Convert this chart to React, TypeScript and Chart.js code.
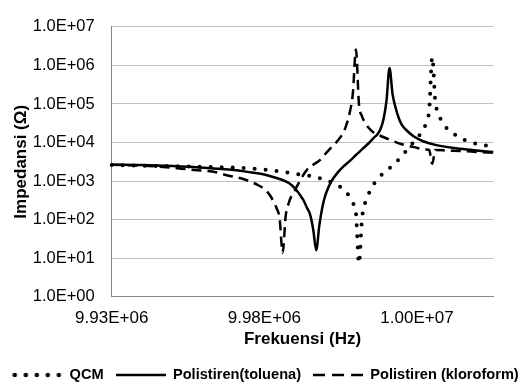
import React, { useEffect, useRef } from "react";
import { Chart, registerables } from "chart.js";

Chart.register(...registerables);

const FONT = "'Liberation Sans', Arial, sans-serif";

// Category axis: measured frequencies (kHz)
const frequencyKHz = [
  9930, 9931, 9932, 9933, 9934, 9935, 9936, 9937, 9938, 9939,
  9940, 9941, 9942, 9943, 9944, 9945, 9946, 9947, 9948, 9949,
  9950, 9951, 9952, 9953, 9954, 9955, 9956, 9957, 9958, 9959,
  9960, 9961, 9962, 9963, 9964, 9965, 9966, 9967, 9968, 9969,
  9970, 9971, 9972, 9973, 9974, 9975, 9976, 9977, 9978, 9979,
  9980,
  9980.4, 9980.8, 9981.2, 9981.6, 9982, 9982.4, 9982.8, 9983.2, 9983.6, 9984,
  9984.4, 9984.8, 9985.2, 9985.6, 9986, 9986.4, 9986.8, 9987.2, 9987.6, 9988,
  9988.4, 9988.8, 9989.2, 9989.6, 9990, 9990.4, 9990.8, 9991.2, 9991.6, 9992,
  9992.4, 9992.8, 9993.2, 9993.6, 9994, 9994.4, 9994.8, 9995.2, 9995.6, 9996,
  9996.4, 9996.8, 9997.2, 9997.6, 9998, 9998.4, 9998.8, 9999.2, 9999.6, 10000,
  10000.4, 10000.8, 10001.2, 10001.6, 10002, 10002.4, 10002.8, 10003.2, 10003.6, 10004,
  10004.4, 10004.8, 10005.2, 10005.6, 10006, 10006.4, 10006.8, 10007.2, 10007.6, 10008,
  10008.4, 10008.8, 10009.2, 10009.6, 10010,
];

const xTickFreqs = [9930, 9980, 10000];
const xTickLabels = ["9.93E+06", "9.98E+06", "1.00E+07"];

const yTickValues = [1, 10, 100, 1000, 10000, 100000, 1000000, 10000000];
const yTickLabels = ["1.0E+00", "1.0E+01", "1.0E+02", "1.0E+03", "1.0E+04", "1.0E+05", "1.0E+06", "1.0E+07"];

const seriesNames = ["QCM", "Polistiren(toluena)", "Polistiren (kloroform)"];

// QCM
const qcmFreq = [
  9930, 9940, 9950, 9960, 9970, 9978, 9981.2, 9982.8, 9984.4, 9986,
  9987.2, 9988.4, 9989.6, 9990.4, 9991.2, 9991.6, 9992, 9992.4, 9992.8, 9993.2,
  9993.6, 9994, 9994.4, 9994.8, 9995.6, 9996.4, 9997.2, 9998, 9998.8, 9999.6,
  10000.4, 10000.8, 10001.2, 10001.6, 10002, 10002.4, 10002.8, 10003.2, 10003.6, 10004.4,
  10005.6, 10006.8, 10008.4, 10010,
];
const qcmImpedance = [
  2600, 2500, 2450, 2350, 2230, 2050, 1870, 1700, 1500, 1360,
  1200, 1000, 780, 600, 385, 270, 150, 7.3, 107, 270,
  430, 650, 870, 1100, 1610, 2150, 2980, 4400, 6760, 10500,
  16200, 20500, 32700, 70000, 1640000, 118000, 58000, 36700, 27500, 19300,
  13400, 10500, 8800, 7800,
];

// Polistiren (toluena)
const toluenaFreq = [
  9930, 9940, 9950, 9960, 9970, 9976, 9980, 9981.6, 9982.8, 9983.6,
  9984.4, 9984.8, 9985.2, 9985.6, 9986, 9986.4, 9986.8, 9987.2, 9987.6, 9988,
  9988.4, 9988.8, 9989.6, 9990.4, 9991.2, 9992, 9992.8, 9993.6, 9994.4, 9994.8,
  9995.2, 9995.6, 9996, 9996.4, 9996.8, 9997.2, 9997.6, 9998, 9998.8, 9999.6,
  10000.8, 10002.4, 10004.8, 10007.2, 10010,
];
const toluenaImpedance = [
  2650, 2600, 2450, 2230, 1930, 1660, 1480, 1200, 980, 780,
  520, 400, 300, 200, 135, 56, 16, 70, 210, 430,
  690, 1000, 1660, 2430, 3350, 4750, 6650, 9300, 13600, 16200,
  21700, 38900, 118000, 860000, 180000, 80000, 44000, 29000, 19300, 14300,
  10800, 8700, 7200, 6400, 5650,
];

// Polistiren (kloroform)
const kloroformFreq = [
  9930, 9940, 9950, 9957, 9963, 9968, 9972, 9975, 9978, 9980,
  9980.8, 9981.2, 9981.6, 9982, 9982.4, 9982.8, 9983.2, 9983.6, 9984, 9984.8,
  9985.6, 9986.4, 9987.2, 9988, 9988.8, 9989.6, 9990.4, 9990.8, 9991.2, 9991.6,
  9992, 9992.4, 9992.8, 9993.2, 9993.6, 9994.4, 9995.2, 9996.4, 9998, 9999.6,
  10001.2, 10001.6, 10002, 10002.4, 10004, 10006, 10008, 10010,
];
const kloroformImpedance = [
  2650, 2500, 2230, 1930, 1770, 1400, 1200, 1000, 780, 620,
  410, 290, 200, 107, 13.8, 125, 270, 430, 580, 1140,
  1980, 2650, 3400, 5100, 7600, 11100, 19000, 30800, 61000, 190000,
  2600000, 99000, 48000, 32700, 25000, 17700, 15000, 11800, 9040, 7600,
  6600, 6450, 2800, 6370, 6200, 6000, 5650, 5400,
];

function toPoints(freqs: number[], values: number[]) {
  return freqs.map((f, i) => {
    const label = frequencyKHz.find((l) => Math.abs(l - f) < 1e-6);
    return { x: label as number, y: values[i] };
  });
}

function makeLegendSymbol(kind: "dot" | "solid" | "dash") {
  const c = document.createElement("canvas");
  c.width = 50;
  c.height = 8;
  const g = c.getContext("2d")!;
  g.strokeStyle = "#000";
  g.beginPath();
  if (kind === "dot") {
    g.lineWidth = 4.5;
    g.lineCap = "round";
    g.setLineDash([0, 11]);
    g.moveTo(2.5, 4);
    g.lineTo(48, 4);
  } else if (kind === "solid") {
    g.lineWidth = 2.5;
    g.moveTo(0, 4);
    g.lineTo(50, 4);
  } else {
    g.lineWidth = 2.5;
    g.setLineDash([12, 7]);
    g.moveTo(0, 4);
    g.lineTo(50, 4);
  }
  g.stroke();
  return c;
}

export default function App() {
  const canvasRef = useRef<HTMLCanvasElement | null>(null);

  useEffect(() => {
    if (!canvasRef.current) return;
    const chart = new Chart(canvasRef.current, {
      type: "line",
      data: {
        labels: frequencyKHz,
        datasets: [
          {
            label: seriesNames[0],
            data: toPoints(qcmFreq, qcmImpedance),
            borderColor: "#000",
            backgroundColor: "#000",
            borderWidth: 4,
            borderDash: [0, 11],
            borderCapStyle: "round",
            pointRadius: 0,
            pointHoverRadius: 0,
            pointStyle: makeLegendSymbol("dot"),
            cubicInterpolationMode: "monotone",
            fill: false,
          },
          {
            label: seriesNames[1],
            data: toPoints(toluenaFreq, toluenaImpedance),
            borderColor: "#000",
            backgroundColor: "#000",
            borderWidth: 2.5,
            pointRadius: 0,
            pointHoverRadius: 0,
            pointStyle: makeLegendSymbol("solid"),
            cubicInterpolationMode: "monotone",
            fill: false,
          },
          {
            label: seriesNames[2],
            data: toPoints(kloroformFreq, kloroformImpedance),
            borderColor: "#000",
            backgroundColor: "#000",
            borderWidth: 2.5,
            borderDash: [10, 6],
            pointRadius: 0,
            pointHoverRadius: 0,
            pointStyle: makeLegendSymbol("dash"),
            cubicInterpolationMode: "monotone",
            fill: false,
          },
        ],
      },
      options: {
        animation: false,
        responsive: true,
        maintainAspectRatio: false,
        layout: { padding: { top: 20.7, left: 0, right: 0, bottom: -7.3 } },
        plugins: {
          legend: {
            position: "bottom",
            labels: {
              usePointStyle: true,
              pointStyleWidth: 50,
              padding: 12,
              color: "#000",
              font: { family: FONT, size: 14.6, weight: "bold" },
            },
          },
          tooltip: { enabled: false },
        },
        scales: {
          x: {
            type: "category",
            offset: false,
            grid: { display: false, drawTicks: false },
            border: { display: true, color: "#868686", width: 1 },
            ticks: {
              autoSkip: false,
              maxRotation: 0,
              minRotation: 0,
              padding: 11,
              color: "#000",
              font: { family: FONT, size: 17 },
              callback: (value: any) => {
                const k = xTickFreqs.indexOf(frequencyKHz[value as number]);
                return k >= 0 ? xTickLabels[k] : null;
              },
            },
            afterBuildTicks: (scale: any) => {
              scale.ticks = xTickFreqs.map((f) => ({ value: frequencyKHz.indexOf(f) }));
            },
            afterFit: (scale: any) => {
              scale.height = 59;
            },
            title: {
              display: true,
              text: "Frekuensi (Hz)",
              color: "#000",
              font: { family: FONT, size: 17, weight: "bold" },
              padding: { top: 0, bottom: 6.5 },
            },
          },
          y: {
            type: "logarithmic",
            position: "left",
            min: 1,
            max: 10000000,
            grid: { color: "#c0c0c0", lineWidth: 1, drawTicks: false },
            border: { display: true, color: "#868686", width: 1 },
            ticks: {
              padding: 17,
              color: "#000",
              font: { family: FONT, size: 16.5 },
              callback: (value: any) => {
                const k = yTickValues.indexOf(Number(value));
                return k >= 0 ? yTickLabels[k] : null;
              },
            },
            afterBuildTicks: (scale: any) => {
              scale.ticks = yTickValues.map((v) => ({ value: v }));
            },
            afterFit: (scale: any) => {
              scale.width = 111.7;
            },
            title: {
              display: true,
              text: "Impedansi (Ω)",
              color: "#000",
              font: { family: FONT, size: 17, weight: "bold" },
              padding: { top: 11.5, bottom: 0 },
            },
          },
          yRight: {
            type: "linear",
            position: "right",
            display: true,
            grid: { display: false, drawTicks: false },
            border: { display: false },
            ticks: { display: false },
            afterFit: (scale: any) => {
              scale.width = 37.7;
            },
          },
        },
      } as any,
    });
    return () => chart.destroy();
  }, []);

  return (
    <div style={{ position: "absolute", left: 0, top: 0, width: 531, height: 385, background: "#fff" }}>
      <canvas ref={canvasRef} />
    </div>
  );
}
